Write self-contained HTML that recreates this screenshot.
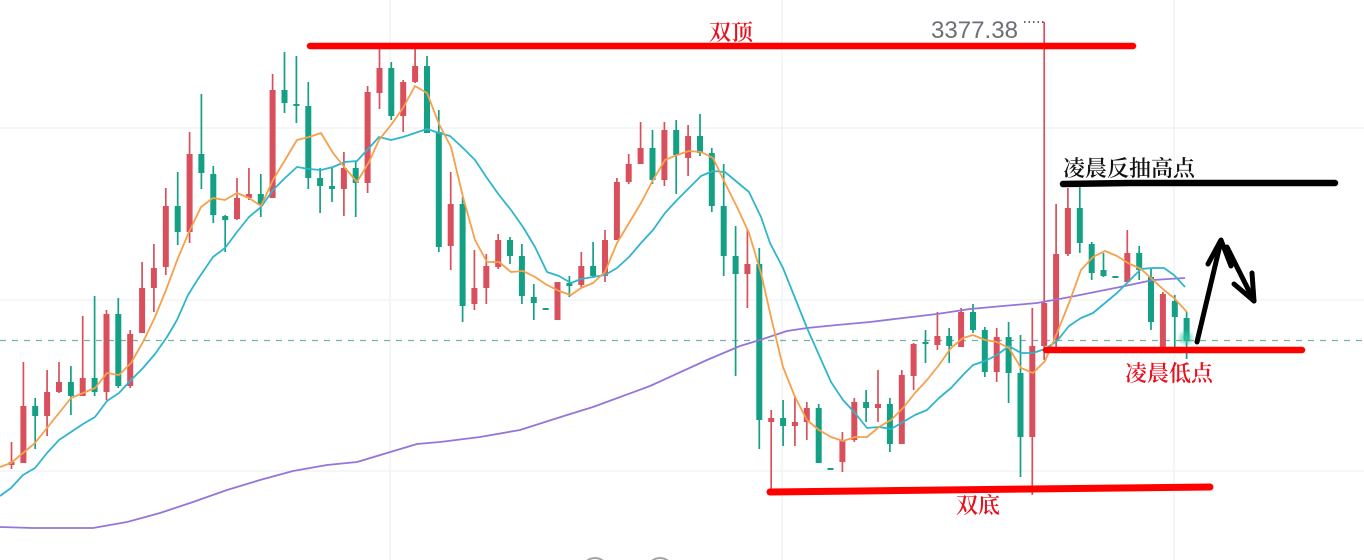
<!DOCTYPE html>
<html><head><meta charset="utf-8"><style>
html,body{margin:0;padding:0;background:#fff;}
svg{display:block;}
.cj{font-family:"Noto Serif CJK SC","Noto Serif CJK SC",serif;font-weight:600;}
</style></head><body>
<svg width="1364" height="560" viewBox="0 0 1364 560" xmlns="http://www.w3.org/2000/svg">
<rect width="1364" height="560" fill="#fff"/>
<!-- grid -->
<g stroke="#eef0f3" stroke-width="1.3">
<line x1="0" y1="128" x2="1364" y2="128"/>
<line x1="0" y1="300" x2="1364" y2="300"/>
<line x1="0" y1="471" x2="1364" y2="471"/>
<line x1="390" y1="0" x2="390" y2="560"/>
<line x1="782" y1="0" x2="782" y2="560"/>
<line x1="1174" y1="0" x2="1174" y2="560"/>
</g>
<line x1="0" y1="340.5" x2="1364" y2="340.5" stroke="#74b3a9" stroke-width="1.2" stroke-dasharray="6 6"/>

<!-- red candles -->
<path fill="none" stroke="#d9505c" stroke-width="1.7" d="M11.5 442V469M23.4 362V463M47.1 370V436M59 362V393M82.7 316V396M106.5 310V400M130.2 330V388M142.1 262V333M153.9 244V312M165.8 188V275M189.6 132V243M237 178V220M248.9 168V200M272.6 74V198M343.9 152V216M367.6 86V193M379.5 43V109M403.2 80V132M415.1 49V83M450.7 172V270M474.4 250V310M486.3 254V304M498.2 234V269M557.5 282V320M581.3 252V288M605 230V282M616.9 178V240M628.7 154V184M640.6 122V164M664.4 122V186M688.1 125V176M747.4 230V308M771.2 410V492M794.9 396V446M806.8 402V440M842.4 432V472M854.3 398V442M878 370V422M901.8 370V444M913.6 343V390M937.4 312V350M961.1 308V347M996.7 328V382M1032.3 308V495M1044.2 22V360M1056.1 204V347M1067.9 188V256M1127.3 230V282M1162.9 292V349"/>
<path fill="#d9505c" d="M8.5 462h6V465h-6ZM20.4 406h6V463h-6ZM44.1 392h6V416h-6ZM56 382h6V392h-6ZM79.7 378h6V396h-6ZM103.5 314h6V392h-6ZM127.2 334h6V386h-6ZM139.1 288h6V333h-6ZM150.9 268h6V288h-6ZM162.8 206h6V267h-6ZM186.6 154h6V232h-6ZM234 198h6V219h-6ZM245.9 194h6V198h-6ZM269.6 90h6V198h-6ZM340.9 168h6V189h-6ZM364.6 92h6V183h-6ZM376.5 68h6V93h-6ZM400.2 82h6V116h-6ZM412.1 66h6V82h-6ZM447.7 204h6V246h-6ZM471.4 288h6V304h-6ZM483.3 266h6V288h-6ZM495.2 240h6V267h-6ZM554.5 282h6V320h-6ZM578.3 266h6V285h-6ZM602 240h6V276h-6ZM613.9 182h6V240h-6ZM625.7 164h6V182h-6ZM637.6 148h6V164h-6ZM661.4 130h6V180h-6ZM685.1 136h6V158h-6ZM744.4 264h6V274h-6ZM768.2 418h6V422h-6ZM791.9 422h6V426h-6ZM803.8 408h6V422h-6ZM839.4 440h6V462h-6ZM851.3 402h6V440h-6ZM875 404h6V408h-6ZM898.8 375h6V444h-6ZM910.6 344h6V376h-6ZM934.4 336h6V345h-6ZM958.1 312h6V347h-6ZM993.7 337h6V372h-6ZM1029.3 346h6V437h-6ZM1041.2 303h6V346h-6ZM1053.1 254h6V340h-6ZM1064.9 208h6V254h-6ZM1124.3 253h6V282h-6ZM1159.9 294h6V349h-6Z"/>

<!-- green candles -->
<path fill="none" stroke="#13a085" stroke-width="1.7" d="M35.2 398V449M70.9 366V415M94.6 296V396M118.3 298V388M177.7 172V245M201.4 94V189M213.3 166V223M225.2 215V252M260.8 174V217M284.5 52V113M296.4 56V123M308.3 82V189M320.1 168V213M332 168V202M355.7 161V217M391.3 62V120M427 56V133M438.8 110V252M462.6 197V322M510 237V264M521.9 244V304M533.8 284V320M569.4 276V297M593.1 242V278M652.5 130V184M676.2 120V194M700 114V156M711.8 148V212M723.7 164V276M735.6 226V376M759.3 248V449M783.1 400V446M818.7 404V463M866.1 390V422M889.9 398V452M925.5 330V363M949.2 328V363M973 304V333M984.8 327V377M1008.6 322V403M1020.5 335V477M1079.8 187V253M1091.7 242V280M1103.5 253V277M1139.2 246V280M1151 269V330M1174.8 295V349M1186.6 312V359"/>
<path fill="#13a085" d="M32.2 406h6V416h-6ZM67.9 382h6V396h-6ZM91.6 378h6V392h-6ZM115.3 314h6V386h-6ZM174.7 206h6V232h-6ZM198.4 154h6V173h-6ZM210.3 174h6V215h-6ZM222.2 216h6V220h-6ZM257.8 194h6V205h-6ZM281.5 90h6V103h-6ZM293.4 104h6V106h-6ZM305.3 106h6V178h-6ZM317.1 178h6V186h-6ZM329 186h6V189h-6ZM352.7 168h6V183h-6ZM388.3 68h6V116h-6ZM424 66h6V133h-6ZM435.8 132h6V247h-6ZM459.6 204h6V306h-6ZM507 240h6V256h-6ZM518.9 256h6V296h-6ZM530.8 297h6V303h-6ZM542.7 308h6V310h-6ZM566.4 283h6V286h-6ZM590.1 266h6V276h-6ZM649.5 148h6V180h-6ZM673.2 130h6V155h-6ZM697 136h6V153h-6ZM708.8 153h6V206h-6ZM720.7 206h6V256h-6ZM732.6 256h6V274h-6ZM756.3 264h6V420h-6ZM780.1 418h6V426h-6ZM815.7 408h6V463h-6ZM827.5 468h6V470h-6ZM863.1 402h6V408h-6ZM886.9 404h6V444h-6ZM922.5 342h6V344h-6ZM946.2 336h6V346h-6ZM970 312h6V330h-6ZM981.8 330h6V372h-6ZM1005.6 337h6V373h-6ZM1017.5 373h6V437h-6ZM1076.8 208h6V243h-6ZM1088.7 244h6V273h-6ZM1100.5 270h6V276h-6ZM1112.4 276h6V278h-6ZM1136.2 253h6V270h-6ZM1148 277h6V322h-6ZM1171.8 301h6V317h-6ZM1183.6 318h6V341h-6Z"/>

<!-- glow on last candle -->
<defs><radialGradient id="gl"><stop offset="0" stop-color="#2fc4a2" stop-opacity="0.9"/><stop offset="1" stop-color="#2fc4a2" stop-opacity="0"/></radialGradient></defs>
<circle cx="1186" cy="338" r="9" fill="url(#gl)"/>

<!-- MA lines -->
<polyline fill="none" stroke="#9476da" stroke-width="1.8" stroke-linejoin="round" points="0,527 33,528 93,528 127,522 160,513 193,502 227,490 260,480 293,471 327,465 357,462 387,453 417,444 440,442 480,437 520,430 567,415 593,407 650,386 707,360 740,346 760,340 787,331 807,328 837,325 870,322 903,318 937,314 970,309 1003,306 1037,303 1070,297 1120,287 1153,280 1185,278"/>
<polyline fill="none" stroke="#2fb5cc" stroke-width="1.8" stroke-linejoin="round" points="0,496 11,488 23,475 35,468 47,453 59,440 71,432 83,424 95,417 107,401 119,393 131,380 143,368 155,354 167,337 177,320 188,295 198,279 213,257 225,248 237,232 249,217 261,207 273,190 285,178 297,167 309,169 321,170 333,167 345,162 357,161 369,148 379,137 391,140 403,137 415,133 427,129 439,133 450,136 463,148 475,160 487,178 499,195 511,210 523,227 535,247 547,272 559,276 571,283 581,279 593,277 605,275 617,268 629,257 641,243 653,230 665,213 677,200 689,188 701,176 713,171 725,172 737,182 749,192 761,217 770,243 783,268 795,298 807,328 819,355 831,382 843,400 855,413 867,428 879,427 891,429 903,422 915,415 927,410 939,398 951,388 963,375 973,365 985,361 997,355 1009,346 1021,353 1033,353 1045,349 1057,341 1069,326 1081,318 1093,313 1105,303 1117,293 1128,282 1141,269 1153,268 1164,268 1174,275 1185,287"/>
<polyline fill="none" stroke="#f6a04c" stroke-width="1.8" stroke-linejoin="round" points="0,467 11,463 23,453 35,443 47,428 59,413 71,398 83,393 95,388 107,373 119,375 131,363 143,342 155,317 166,290 178,258 189,232 201,207 213,198 225,200 237,193 249,198 261,206 273,180 285,160 297,140 309,137 321,133 333,153 345,168 357,182 369,162 379,140 391,125 403,108 415,86 427,93 439,124 451,147 463,197 475,240 487,262 499,262 511,272 523,271 535,277 547,285 559,291 571,295 581,288 593,283 605,272 617,243 629,223 641,203 653,180 665,160 677,155 689,151 701,152 713,158 725,183 737,207 749,233 761,273 771,317 783,367 795,397 807,420 819,430 831,437 843,441 855,437 867,437 879,427 891,420 903,408 915,393 927,380 939,365 951,348 963,338 973,335 985,340 997,342 1009,348 1021,368 1033,373 1045,361 1057,333 1069,303 1081,270 1093,257 1105,251 1117,256 1128,263 1141,269 1153,280 1164,290 1174,298 1187,312"/>

<!-- annotations -->
<line x1="310" y1="46" x2="1133" y2="46" stroke="#ff0000" stroke-width="6.5" stroke-linecap="round"/>
<text class="cj" x="709" y="40" font-size="22" fill="#e8101c">双顶</text>
<text x="931" y="38" font-family="'Liberation Sans',sans-serif" font-size="24" fill="#6c6f76" textLength="87" lengthAdjust="spacingAndGlyphs">3377.38</text>
<line x1="1024" y1="22" x2="1044" y2="22" stroke="#333" stroke-width="1.5" stroke-dasharray="1.5 3"/>

<polyline fill="none" points="770,492 860,491 1030,489 1210,487" stroke="#ff0000" stroke-width="7" stroke-linecap="round" stroke-linejoin="round"/>
<text class="cj" x="956" y="513" font-size="22" fill="#e8101c">双底</text>

<polyline fill="none" points="1063,184 1130,183 1335,183" stroke="#000" stroke-width="6.5" stroke-linecap="round"/>
<text class="cj" x="1063" y="176" font-size="22" fill="#111">凌晨反抽高点</text>

<line x1="1046" y1="350" x2="1302" y2="350" stroke="#ff0000" stroke-width="6.5" stroke-linecap="round"/>
<text class="cj" x="1125" y="381" font-size="22" fill="#e8101c">凌晨低点</text>

<!-- arrows -->
<g fill="none" stroke="#000" stroke-width="5" stroke-linecap="round" stroke-linejoin="round">
<line x1="1197" y1="342" x2="1221" y2="241"/>
<polyline points="1208,264 1221,240 1231,266"/>
<line x1="1227" y1="247" x2="1254" y2="301"/>
<polyline points="1234,284 1254,301 1252,273"/>
</g>

<!-- bottom circles -->
<circle cx="595" cy="571" r="13" fill="none" stroke="#a0a4ab" stroke-width="2"/>
<circle cx="660" cy="571" r="13" fill="none" stroke="#a0a4ab" stroke-width="2"/>
</svg>
</body></html>
